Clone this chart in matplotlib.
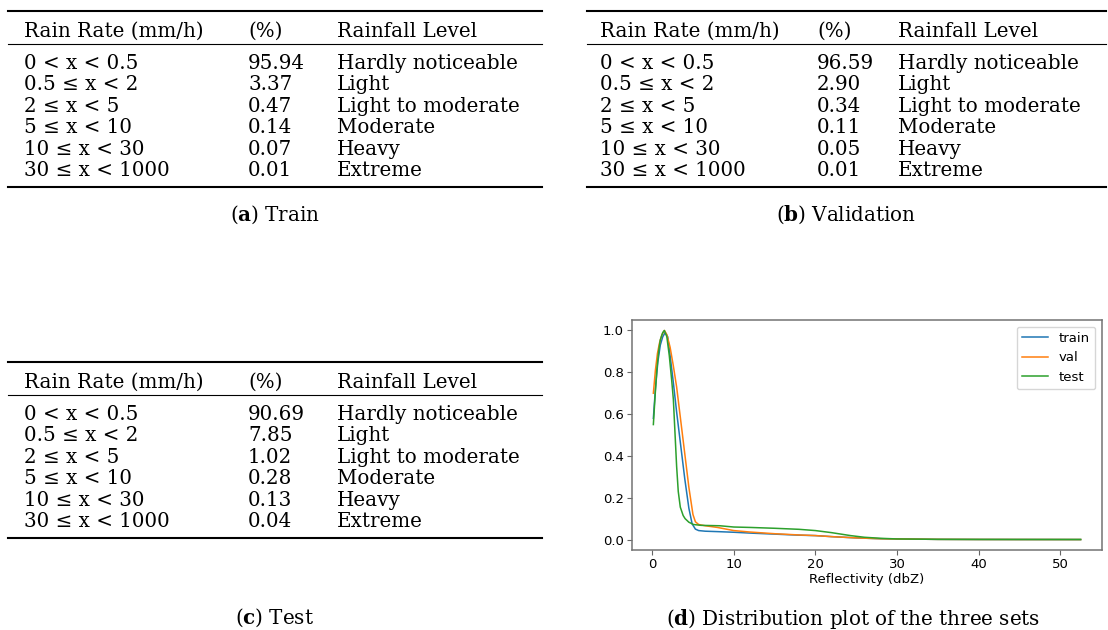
import matplotlib
matplotlib.use('Agg')
import matplotlib.pyplot as plt
from matplotlib.lines import Line2D

# datos de las tablas
header = ["Rain Rate (mm/h)", "(%)", "Rainfall Level"]
rate_bins = ["0 < x < 0.5", "0.5 ≤ x < 2", "2 ≤ x < 5", "5 ≤ x < 10",
             "10 ≤ x < 30", "30 ≤ x < 1000"]
rain_levels = ["Hardly noticeable", "Light", "Light to moderate", "Moderate",
               "Heavy", "Extreme"]
train_pct = ["95.94", "3.37", "0.47", "0.14", "0.07", "0.01"]
val_pct = ["96.59", "2.90", "0.34", "0.11", "0.05", "0.01"]
test_pct = ["90.69", "7.85", "1.02", "0.28", "0.13", "0.04"]

# curvas de distribucion
train_x = [0.15, 0.4, 0.7, 1.0, 1.3, 1.6, 1.9, 2.2, 2.6, 3.0, 3.5, 4.0, 4.5,
           4.9, 5.3, 5.7, 6.5, 8, 10, 12, 15, 18, 20, 22, 25, 28, 30, 35, 40,
           45, 50, 52.5]
train_y = [0.58, 0.72, 0.85, 0.93, 0.97, 0.99, 0.97, 0.88, 0.75, 0.61, 0.45,
           0.29, 0.15, 0.075, 0.05, 0.043, 0.040, 0.038, 0.035, 0.031, 0.026,
           0.021, 0.019, 0.014, 0.008, 0.004, 0.003, 0.001, 0.0005, 0.0003,
           0.0002, 0.0001]
val_x = [0.15, 0.4, 0.65, 0.9, 1.2, 1.5, 1.8, 2.2, 2.6, 3.0, 3.5, 4.0, 4.5,
         5.0, 5.3, 5.7, 6.5, 8, 10, 12, 15, 18, 20, 22, 25, 28, 30, 35, 40,
         45, 50, 52.5]
val_y = [0.70, 0.81, 0.89, 0.94, 0.98, 1.0, 0.98, 0.92, 0.83, 0.73, 0.57,
         0.41, 0.25, 0.12, 0.085, 0.072, 0.066, 0.058, 0.043, 0.036, 0.028,
         0.022, 0.019, 0.014, 0.008, 0.004, 0.003, 0.001, 0.0005, 0.0003,
         0.0002, 0.0001]
test_x = [0.15, 0.35, 0.57, 0.8, 1.0, 1.3, 1.5, 1.8, 2.1, 2.4, 2.6, 3.0, 3.2,
          3.45, 3.8, 4.04, 4.5, 5.07, 6, 8.3, 10, 12, 15, 18, 20, 22, 24.3,
          26, 28, 30, 35, 40, 45, 50, 52.5]
test_y = [0.55, 0.68, 0.81, 0.90, 0.955, 0.99, 1.0, 0.97, 0.88, 0.76, 0.67,
          0.35, 0.23, 0.155, 0.115, 0.10, 0.083, 0.072, 0.068, 0.066, 0.060,
          0.058, 0.054, 0.049, 0.043, 0.033, 0.019, 0.011, 0.006, 0.003,
          0.001, 0.0006, 0.0004, 0.0003, 0.0003]

W, H = 1108, 630
plt.rcParams['mathtext.fontset'] = 'dejavuserif'
fig = plt.figure(figsize=(W / 100, H / 100), dpi=100)

SERIF = 'DejaVu Serif'
FS = 14.3
PFS = 9.5


def fx(px):
    return px / W


def fy(py):
    return 1 - py / H


def hrule(x0, x1, y, lw):
    fig.add_artist(Line2D([fx(x0), fx(x1)], [fy(y), fy(y)], color='black', lw=lw))


def draw_table(x0, x1, top, cols, pct, caption, cap_x, cap_y):
    hrule(x0, x1, top, 1.5)
    for cx, txt in zip(cols, header):
        fig.text(fx(cx), fy(top + 26), txt, family=SERIF, fontsize=FS, va='baseline')
    hrule(x0, x1, top + 33, 0.8)
    for i in range(len(rate_bins)):
        yb = top + 58 + i * 21.4
        fig.text(fx(cols[0]), fy(yb), rate_bins[i], family=SERIF, fontsize=FS, va='baseline')
        fig.text(fx(cols[1]), fy(yb), pct[i], family=SERIF, fontsize=FS, va='baseline')
        fig.text(fx(cols[2]), fy(yb), rain_levels[i], family=SERIF, fontsize=FS, va='baseline')
    hrule(x0, x1, top + 176, 1.5)
    fig.text(fx(cap_x), fy(cap_y), caption, family=SERIF, fontsize=FS,
             ha='center', va='center')


draw_table(8, 542, 11, [24, 248, 337], train_pct, r"($\mathbf{a}$) Train", 275, 215)
draw_table(587, 1106, 11, [600, 817, 898], val_pct, r"($\mathbf{b}$) Validation", 846, 215)
draw_table(8, 542, 362, [24, 248, 337], test_pct, r"($\mathbf{c}$) Test", 275, 618)
fig.text(fx(853), fy(619), r"($\mathbf{d}$) Distribution plot of the three sets",
         family=SERIF, fontsize=FS, ha='center', va='center')

# grafico de distribucion
ax = fig.add_axes([fx(632), fy(550), (1102 - 632) / W, (550 - 320) / H])
ax.plot(train_x, train_y, color='tab:blue', lw=1.1, label='train')
ax.plot(val_x, val_y, color='tab:orange', lw=1.1, label='val')
ax.plot(test_x, test_y, color='tab:green', lw=1.1, label='test')
ax.set_xticks([0, 10, 20, 30, 40, 50])
ax.set_yticks([0.0, 0.2, 0.4, 0.6, 0.8, 1.0])
ax.tick_params(labelsize=PFS, length=3.5, color='0.4', pad=2.5)
ax.set_xlabel('Reflectivity (dbZ)', fontsize=PFS, labelpad=1)
for s in ax.spines.values():
    s.set_color('0.45')
    s.set_linewidth(1.1)
ax.legend(loc='upper right', fontsize=PFS)

fig.savefig('out.png', dpi=100)
